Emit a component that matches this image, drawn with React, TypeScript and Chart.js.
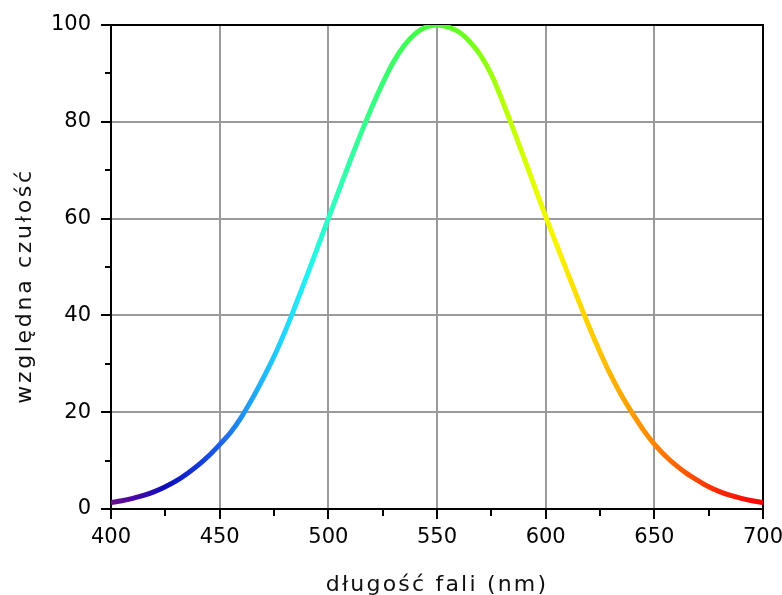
import React, { useEffect, useRef } from "react";
import { Chart, registerables } from "chart.js";

Chart.register(...registerables);

// ---- data ----
const wavelengths = [
  400, 405, 410, 415, 420, 425, 430, 435, 440, 445,
  450, 455, 460, 465, 470, 475, 480, 485, 490, 495,
  500, 505, 510, 515, 520, 525, 530, 535, 540, 545,
  550, 555, 560, 565, 570, 575, 580, 585, 590, 595,
  600, 605, 610, 615, 620, 625, 630, 635, 640, 645,
  650, 655, 660, 665, 670, 675, 680, 685, 690, 695,
  700,
];
const sensitivity = [
  1.3, 1.7, 2.2, 2.8, 3.6, 4.6, 5.8, 7.3, 9.0, 11.0,
  13.3, 15.8, 19.0, 22.8, 27.0, 31.5, 36.6, 42.2, 48.0, 54.0,
  60.0, 66.0, 71.9, 77.6, 83.0, 88.0, 92.4, 95.8, 98.2, 99.6,
  100, 99.6, 98.6, 96.6, 93.8, 89.8, 84.4, 78.6, 72.6, 66.5,
  60.4, 54.6, 48.9, 43.2, 37.6, 32.4, 27.6, 23.4, 19.7, 16.3,
  13.4, 11.0, 9.0, 7.3, 5.9, 4.6, 3.6, 2.8, 2.2, 1.7,
  1.3,
];
const xMin = 400;
const xMax = 700;
const xStep = 50;
const yMin = 0;
const yMax = 100;
const yStep = 20;
const xMinorTicks = [425, 475, 525, 575, 625, 675];
const yMinorTicks = [10, 30, 50, 70, 90];
const xTitle = "długość fali (nm)";
const yTitle = "względna czułość";

// spectrum colour stops (wavelength, colour)
const stopWavelengths = [400, 410, 425, 440, 450, 460, 470, 480, 490, 500, 520, 540, 550, 565, 580, 595, 605, 620, 635, 650, 665, 680, 700];
const stopColors = [
  "#6c0c8c", "#4a08a6", "#0c0cb8", "#1438d8", "#1e62e8", "#2090f0", "#22b8f8", "#22d8ff", "#24f0f0", "#30ffc4",
  "#38ff84", "#40ff48", "#48ff30", "#74ff1c", "#b4ff0c", "#e4ff00", "#f8f400", "#ffd000", "#ffa800", "#ff8400",
  "#ff5600", "#ff2400", "#ff0000",
];

const FONT = "'DejaVu Sans', sans-serif";

const framePlugin = {
  id: "frameAndMinor",
  beforeDatasetsDraw(chart: any) {
    const { ctx, chartArea, scales } = chart;
    ctx.save();
    ctx.strokeStyle = "#000";
    ctx.lineWidth = 2;
    ctx.beginPath();
    ctx.moveTo(chartArea.left - 1, chartArea.top);
    ctx.lineTo(chartArea.right + 1, chartArea.top);
    ctx.moveTo(chartArea.right, chartArea.top);
    ctx.lineTo(chartArea.right, chartArea.bottom + 1);
    for (const v of yMinorTicks) {
      const y = Math.round(scales.y.getPixelForValue(v));
      ctx.moveTo(chartArea.left - 6, y);
      ctx.lineTo(chartArea.left, y);
    }
    for (const v of xMinorTicks) {
      const x = Math.round(scales.x.getPixelForValue(v));
      ctx.moveTo(x, chartArea.bottom);
      ctx.lineTo(x, chartArea.bottom + 7);
    }
    ctx.stroke();
    ctx.restore();
  },
};

const titlesPlugin = {
  id: "axisTitles",
  afterDraw(chart: any) {
    const { ctx, chartArea } = chart;
    ctx.save();
    ctx.fillStyle = "#111";
    ctx.textAlign = "center";
    ctx.textBaseline = "alphabetic";
    ctx.font = `22px ${FONT}`;
    (ctx as any).letterSpacing = "2.2px";
    ctx.fillText(xTitle, (chartArea.left + chartArea.right) / 2, 591);
    ctx.font = `22px ${FONT}`;
    (ctx as any).letterSpacing = "2.7px";
    ctx.translate(31, 286);
    ctx.rotate(-Math.PI / 2);
    ctx.fillText(yTitle, 0, 0);
    ctx.restore();
  },
};

export default function App() {
  const ref = useRef<HTMLCanvasElement>(null);

  useEffect(() => {
    const canvas = ref.current!;
    const points = wavelengths.map((w, i) => ({ x: w, y: sensitivity[i] }));
    const chart = new Chart(canvas, {
      type: "line",
      data: {
        datasets: [
          {
            data: points,
            borderWidth: 5,
            pointRadius: 0,
            cubicInterpolationMode: "monotone",
            borderColor: (c: any) => {
              const ch = c.chart;
              const area = ch.chartArea;
              if (!area) return "#40ff30";
              const g = ch.ctx.createLinearGradient(area.left, 0, area.right, 0);
              const w = area.right - area.left;
              stopWavelengths.forEach((wl, i) => {
                const px = ch.scales.x.getPixelForValue(wl);
                g.addColorStop(Math.min(1, Math.max(0, (px - area.left) / w)), stopColors[i]);
              });
              return g;
            },
          },
        ],
      },
      options: {
        responsive: false,
        animation: false,
        devicePixelRatio: 1,
        layout: { padding: { left: 0, top: 25, right: 19, bottom: 0 } },
        plugins: {
          legend: { display: false },
          tooltip: { enabled: false },
          title: { display: false },
        },
        events: [],
        scales: {
          x: {
            type: "linear",
            min: xMin,
            max: xMax,
            afterFit: (s: any) => {
              s.height = 86;
              s.paddingLeft = 0;
              s.paddingRight = 0;
            },
            ticks: {
              stepSize: xStep,
              color: "#000",
              font: { family: FONT, size: 21 },
              padding: 6,
              maxRotation: 0,
              autoSkip: false,
            },
            grid: {
              color: "#9a9a9a",
              lineWidth: 2,
              tickColor: "#000",
              tickLength: 10,
              drawTicks: true,
            },
            border: { display: true, color: "#000", width: 2 },
          },
          y: {
            type: "linear",
            min: yMin,
            max: yMax,
            afterFit: (s: any) => {
              s.width = 111;
              s.paddingTop = 0;
              s.paddingBottom = 0;
            },
            ticks: {
              stepSize: yStep,
              color: "#000",
              font: { family: FONT, size: 21 },
              padding: 10,
            },
            grid: {
              color: "#9a9a9a",
              lineWidth: 2,
              tickColor: "#000",
              tickLength: 10,
              drawTicks: true,
            },
            border: { display: true, color: "#000", width: 2 },
          },
        },
      },
      plugins: [framePlugin, titlesPlugin],
    } as any);
    return () => chart.destroy();
  }, []);

  return (
    <div style={{ position: "fixed", left: 0, top: 0, width: 782, height: 595, background: "#fff" }}>
      <canvas ref={ref} width={782} height={595} style={{ display: "block" }} />
    </div>
  );
}
